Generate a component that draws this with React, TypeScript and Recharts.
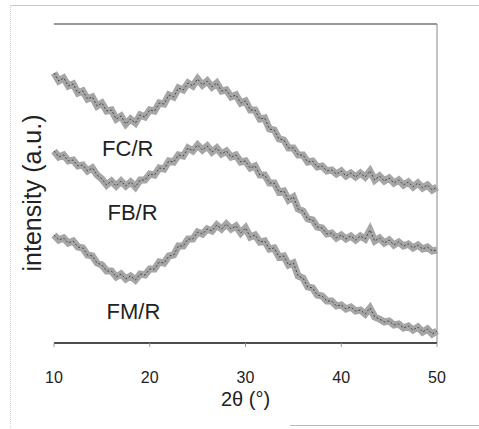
import React from 'react';
import { LineChart, Line, XAxis, YAxis, ReferenceLine, ReferenceDot, Label } from 'recharts';

const angles = [
  10, 10.5, 11, 11.5, 12, 12.5, 13, 13.5, 14, 14.5, 15, 15.5, 16, 16.5, 17, 17.5, 18, 18.5, 19, 19.5,
  20, 20.5, 21, 21.5, 22, 22.5, 23, 23.5, 24, 24.5, 25, 25.5, 26, 26.5, 27, 27.5, 28, 28.5, 29, 29.5,
  30, 30.5, 31, 31.5, 32, 32.5, 33, 33.5, 34, 34.5, 35, 35.5, 36, 36.5, 37, 37.5, 38, 38.5, 39, 39.5,
  40, 40.5, 41, 41.5, 42, 42.5, 43, 43.5, 44, 44.5, 45, 45.5, 46, 46.5, 47, 47.5, 48, 48.5, 49, 49.5, 50,
];

const fcR = [
  270, 262, 265, 257, 259, 250, 252, 244, 246, 237, 240, 232, 233, 224, 227, 219, 224, 220, 228, 226,
  233, 232, 240, 239, 248, 246, 255, 253, 260, 257, 264, 258, 262, 256, 260, 252, 253, 246, 248, 240,
  242, 233, 233, 224, 225, 214, 213, 204, 203, 195, 195, 188, 188, 181, 182, 176, 177, 172, 173, 169,
  172, 167, 170, 166, 170, 166, 172, 163, 167, 162, 165, 160, 163, 158, 161, 156, 160, 155, 158, 153, 156,
];

const fbR = [
  192, 186, 188, 182, 183, 177, 178, 172, 175, 168, 164, 158, 162, 157, 162, 157, 161, 156, 163, 163,
  169, 168, 175, 174, 182, 181, 188, 187, 195, 192, 198, 193, 197, 191, 195, 189, 192, 186, 188, 181,
  182, 175, 177, 168, 168, 160, 160, 151, 152, 143, 146, 134, 132, 124, 123, 116, 115, 109, 110, 105,
  108, 104, 107, 103, 107, 104, 113, 102, 105, 100, 103, 98, 101, 97, 99, 95, 98, 94, 96, 92, 93,
];

const fmR = [
  108, 103, 105, 100, 102, 96, 95, 88, 87, 80, 78, 72, 72, 66, 69, 64, 67, 63, 69, 68,
  74, 74, 81, 80, 87, 88, 97, 97, 104, 104, 111, 109, 114, 112, 118, 114, 119, 114, 117, 110,
  115, 106, 108, 101, 102, 94, 95, 86, 87, 78, 80, 67, 65, 56, 55, 48, 47, 42, 42, 37,
  38, 34, 36, 32, 33, 29, 35, 26, 24, 21, 22, 18, 19, 15, 17, 13, 16, 11, 14, 9, 12,
];

const xTicks = [10, 20, 30, 40, 50];
const seriesLabels = [
  { name: 'FC/R', x: 17.7, y: 195 },
  { name: 'FB/R', x: 18.2, y: 131 },
  { name: 'FM/R', x: 18.3, y: 32 },
];
const yTitle = 'intensity (a.u.)';
const xTitle = '2θ (°)';

const data = angles.map((a, i) => ({ angle: a, fc: fcR[i], fb: fbR[i], fm: fmR[i] }));

const font = 'Arial, "Liberation Sans", sans-serif';

const YTitle = (props: any) => {
  const vb = props.viewBox || { x: 54, y: 193, width: 0, height: 0 };
  const cx = vb.x + (vb.width || 0) / 2 - 22;
  const cy = vb.y + (vb.height || 0) / 2;
  return (
    <text
      x={cx}
      y={cy}
      transform={`rotate(-90 ${cx} ${cy})`}
      textAnchor="middle"
      dominantBaseline="central"
      style={{ fontSize: 25, fontFamily: font, fill: '#222' }}
    >
      {yTitle}
    </text>
  );
};

export default function App() {
  const keys = ['fc', 'fb', 'fm'];
  return (
    <div style={{ position: 'absolute', left: 0, top: 0, width: 479, height: 429, background: '#fff' }}>
      <div style={{ position: 'absolute', left: 10, top: 5, width: 469, height: 424, borderTop: '1px solid #c8c8c8', borderLeft: '1px dotted #d0d0d0' }} />
      <div style={{ position: 'absolute', left: 290, top: 425, width: 189, height: 1, background: '#bbb' }} />
      <div style={{ position: 'absolute', left: 0, top: 0 }}>
        <LineChart width={479} height={429} data={data} margin={{ top: 24, right: 42, bottom: 56, left: 54 }}>
          <XAxis
            dataKey="angle"
            type="number"
            domain={[10, 50]}
            ticks={xTicks}
            height={30}
            axisLine={{ stroke: '#111', strokeWidth: 1.5 }}
            tickLine={{ stroke: '#999' }}
            tickSize={4}
            tickMargin={25}
            tick={{ fontSize: 16, fontFamily: font, fill: '#222' }}
          >
            <Label value={xTitle} position="bottom" offset={19} style={{ fontSize: 20, fontFamily: font, fill: '#222' }} />
          </XAxis>
          <YAxis
            type="number"
            domain={[0, 319]}
            width={0}
            tick={false}
            tickLine={false}
            axisLine={{ stroke: '#111', strokeWidth: 1.5 }}
          />
          <ReferenceLine y={319} stroke="#333" strokeWidth={1.2} />
          <ReferenceLine x={50} stroke="#888" strokeWidth={1} />
          {keys.map((k) => (
            <Line key={k + 'band'} dataKey={k} type="linear" stroke="#a6a6a6" strokeWidth={7} dot={false} isAnimationActive={false} />
          ))}
          {keys.map((k) => (
            <Line key={k + 'noise'} dataKey={k} type="linear" stroke="#444" strokeWidth={1} strokeDasharray="2 2" dot={false} isAnimationActive={false} />
          ))}
          {seriesLabels.map((s) => (
            <ReferenceDot key={s.name} x={s.x} y={s.y} r={0} fill="none" stroke="none">
              <Label value={s.name} position="center" style={{ fontSize: 22, fontFamily: font, fill: '#222' }} />
            </ReferenceDot>
          ))}
          <ReferenceDot x={10} y={150} r={0} fill="none" stroke="none" ifOverflow="visible">
            <Label content={YTitle} />
          </ReferenceDot>
        </LineChart>
      </div>
    </div>
  );
}
